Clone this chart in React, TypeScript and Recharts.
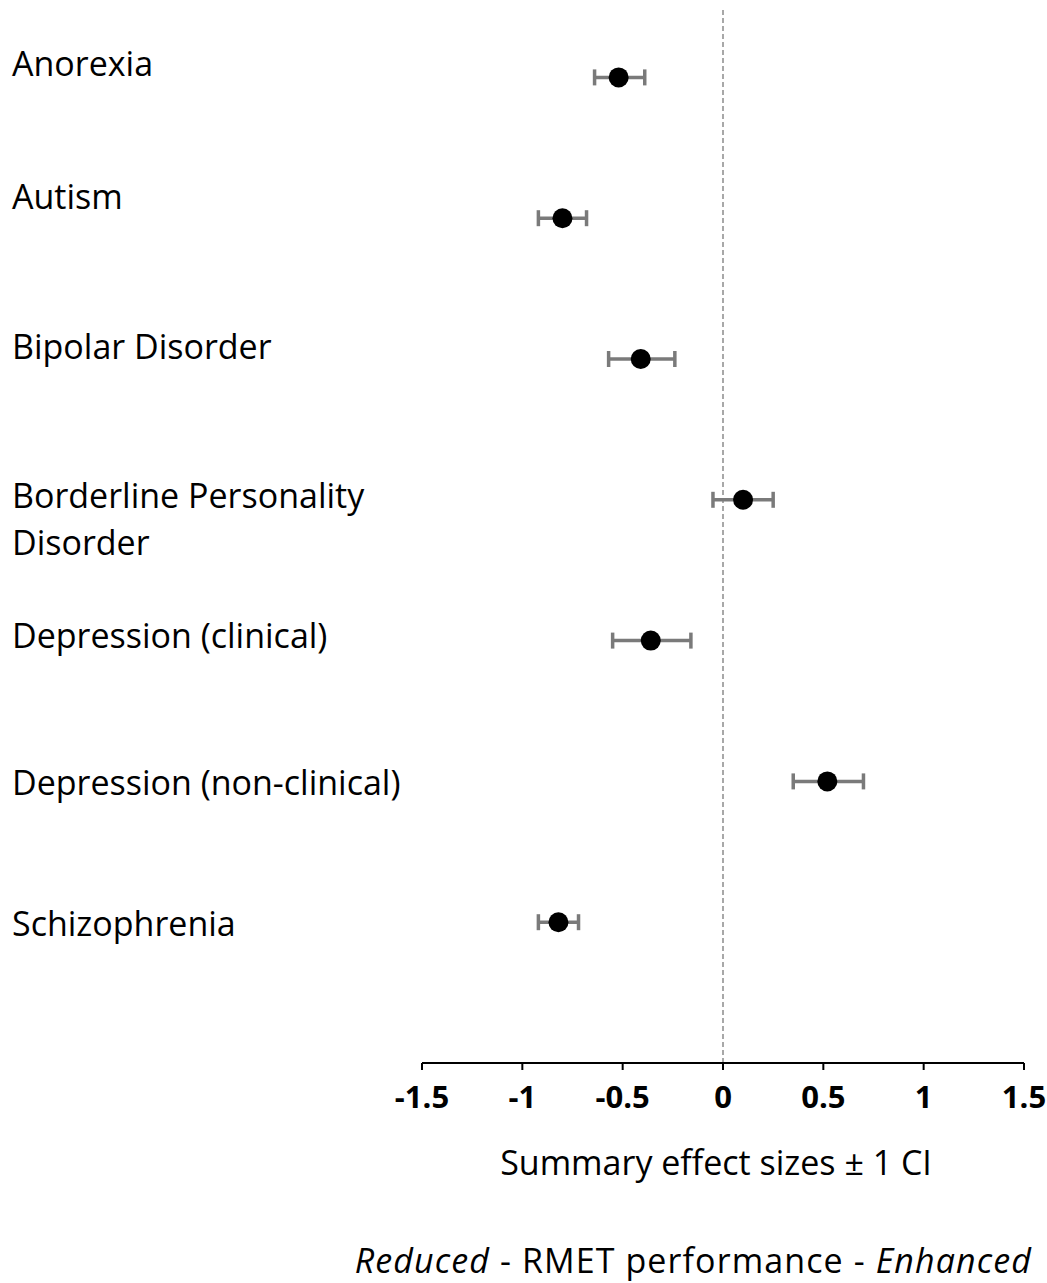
import { ScatterChart, Scatter, XAxis, YAxis, ErrorBar, ReferenceLine } from 'recharts';

// one row per disorder, top to bottom
const disorders = [
    'Anorexia',
    'Autism',
    'Bipolar Disorder',
    'Borderline Personality\nDisorder',
    'Depression (clinical)',
    'Depression (non-clinical)',
    'Schizophrenia',
];
const effectSizes = [-0.52, -0.8, -0.41, 0.1, -0.36, 0.52, -0.82];
const ciLower = [-0.64, -0.92, -0.57, -0.05, -0.55, 0.35, -0.92];
const ciUpper = [-0.39, -0.68, -0.24, 0.25, -0.16, 0.7, -0.72];
const xTicks = [-1.5, -1, -0.5, 0, 0.5, 1, 1.5];

const FONT = '"Open Sans", "DejaVu Sans", sans-serif';
// baseline nudges for the left-hand text boxes (px, relative to the row)
const LABEL_NUDGE = [-1, -9, 0, 8, 7, 14, 14];

const rows = disorders.map((name, i) => ({
    name,
    effect: effectSizes[i],
    row: disorders.length - i,
    err: [effectSizes[i] - ciLower[i], ciUpper[i] - effectSizes[i]],
}));
const rowTicks = rows.map((r) => r.row);

function DisorderTick(props: any) {
    const { y, payload } = props;
    const idx = disorders.length - payload.value;
    const lines = (disorders[idx] ?? '').split('\n');
    return (
        <text x={12} y={y + LABEL_NUDGE[idx]} fill="#000" fontFamily={FONT} fontSize={34}>
            {lines.map((line, k) => (
                <tspan key={k} x={12} dy={k === 0 ? 0 : 47}>
                    {line}
                </tspan>
            ))}
        </text>
    );
}

function Captions(props: any) {
    const { viewBox } = props;
    const cx = viewBox.x + viewBox.width / 2;
    return (
        <g fontFamily={FONT} fontSize={34} fill="#000">
            <text x={cx - 7} y={viewBox.y + 112} textAnchor="middle">
                Summary effect sizes ± 1 CI
            </text>
            <text x={1032} y={viewBox.y + 210} textAnchor="end" letterSpacing={1.1}>
                <tspan fontStyle="italic">Reduced</tspan>
                <tspan> - RMET performance - </tspan>
                <tspan fontStyle="italic">Enhanced</tspan>
            </text>
        </g>
    );
}

function Dot(props: any) {
    return <circle cx={props.cx} cy={props.cy} r={10} fill="#000" />;
}

export default function App() {
    return (
        <div style={{ position: 'absolute', left: 0, top: 0, background: '#fff' }}>
            <ScatterChart width={1047} height={1283} margin={{ top: 7, right: 23, left: 12, bottom: 0 }}>
                <XAxis
                    type="number"
                    dataKey="effect"
                    domain={[-1.5, 1.5]}
                    ticks={xTicks}
                    interval={0}
                    height={220}
                    axisLine={{ stroke: '#000', strokeWidth: 2 }}
                    tickLine={{ stroke: '#000', strokeWidth: 2 }}
                    tickSize={7}
                    tickMargin={16}
                    tick={{ fill: '#000', fontFamily: FONT, fontSize: 31, fontWeight: 700 }}
                    label={{ content: Captions }}
                />
                <YAxis
                    type="number"
                    dataKey="row"
                    domain={[0, 7.5]}
                    ticks={rowTicks}
                    interval={0}
                    width={410}
                    axisLine={false}
                    tickLine={false}
                    tick={DisorderTick}
                />
                <ReferenceLine x={0} stroke="#8c8c8c" strokeWidth={1.5} strokeDasharray="5 3" />
                <Scatter data={rows} shape={Dot} isAnimationActive={false}>
                    <ErrorBar
                        dataKey="err"
                        direction="x"
                        width={8}
                        stroke="#7a7a7a"
                        strokeWidth={3.5}
                        isAnimationActive={false}
                    />
                </Scatter>
            </ScatterChart>
        </div>
    );
}
